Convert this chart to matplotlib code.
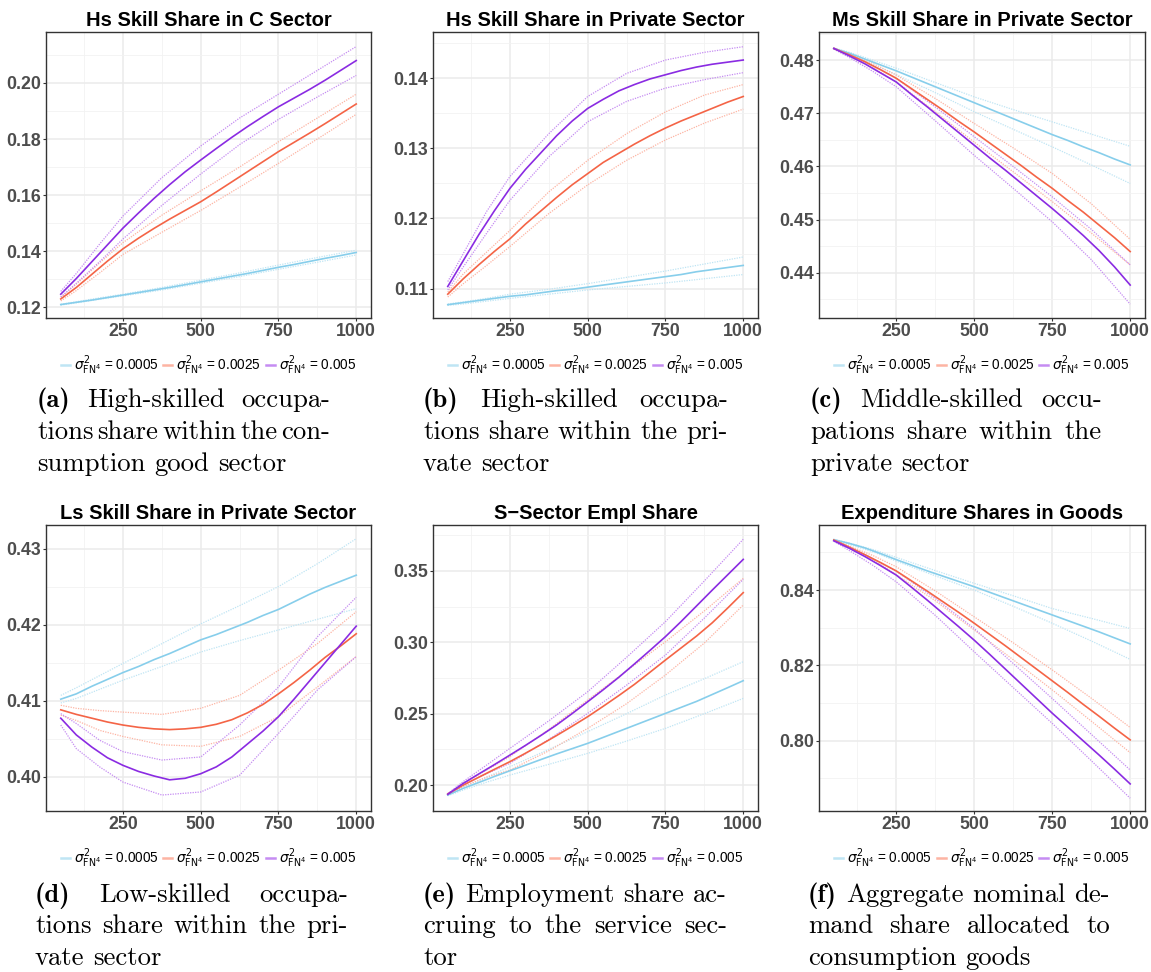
import matplotlib
matplotlib.use("Agg")
import matplotlib.pyplot as plt
from matplotlib.lines import Line2D

W, H = 1151, 972
DPI = 100

# ---------------- data ----------------
# x positions of the band (dotted) series and of the mean (solid) series
steps = [50, 100, 175, 250, 375, 500, 625, 750, 875, 1000]
steps_mean = [50, 100, 150, 200, 250, 300, 350, 400, 450, 500,
              550, 600, 650, 700, 750, 800, 850, 900, 950, 1000]
variances = ["0.0005", "0.0025", "0.005"]

# each list: [sigma2=0.0005, sigma2=0.0025, sigma2=0.005]
hs_c_mean = [
    [0.1209, 0.1217, 0.1225, 0.1234, 0.1243, 0.1252, 0.1261, 0.1270, 0.1280, 0.1290,
     0.1300, 0.1310, 0.1320, 0.1331, 0.1342, 0.1352, 0.1363, 0.1374, 0.1384, 0.1395],
    [0.1229, 0.1270, 0.1317, 0.1364, 0.1408, 0.1446, 0.1481, 0.1514, 0.1545, 0.1576,
     0.1611, 0.1647, 0.1683, 0.1719, 0.1755, 0.1788, 0.1821, 0.1855, 0.1890, 0.1925],
    [0.1246, 0.1302, 0.1362, 0.1422, 0.1482, 0.1536, 0.1588, 0.1637, 0.1683, 0.1725,
     0.1766, 0.1806, 0.1844, 0.1880, 0.1915, 0.1946, 0.1977, 0.2010, 0.2045, 0.2080],
]
hs_c_hi = [
    [0.1210, 0.1219, 0.1233, 0.1246, 0.1270, 0.1296, 0.1322, 0.1350, 0.1377, 0.1403],
    [0.1235, 0.1282, 0.1358, 0.1430, 0.1528, 0.1615, 0.1700, 0.1790, 0.1875, 0.1960],
    [0.1256, 0.1320, 0.1425, 0.1525, 0.1662, 0.1775, 0.1875, 0.1960, 0.2045, 0.2130],
]
hs_c_lo = [
    [0.1207, 0.1215, 0.1228, 0.1240, 0.1261, 0.1285, 0.1309, 0.1335, 0.1360, 0.1386],
    [0.1222, 0.1259, 0.1322, 0.1388, 0.1467, 0.1545, 0.1628, 0.1713, 0.1800, 0.1888],
    [0.1236, 0.1285, 0.1362, 0.1443, 0.1563, 0.1675, 0.1780, 0.1870, 0.1950, 0.2027],
]

hs_p_mean = [
    [0.1077, 0.1080, 0.1083, 0.1086, 0.1089, 0.1091, 0.1094, 0.1097, 0.1099, 0.1102,
     0.1105, 0.1108, 0.1111, 0.1114, 0.1117, 0.1120, 0.1124, 0.1127, 0.1130, 0.1133],
    [0.1092, 0.1114, 0.1134, 0.1153, 0.1171, 0.1192, 0.1211, 0.1230, 0.1248, 0.1264,
     0.1280, 0.1293, 0.1306, 0.1318, 0.1329, 0.1339, 0.1348, 0.1357, 0.1366, 0.1374],
    [0.1103, 0.1140, 0.1177, 0.1211, 0.1243, 0.1270, 0.1294, 0.1318, 0.1339, 0.1357,
     0.1370, 0.1382, 0.1391, 0.1399, 0.1405, 0.1411, 0.1416, 0.1420, 0.1423, 0.1426],
]
hs_p_hi = [
    [0.1078, 0.1081, 0.1086, 0.1092, 0.1099, 0.1107, 0.1116, 0.1125, 0.1135, 0.1145],
    [0.1095, 0.1121, 0.1152, 0.1183, 0.1238, 0.1283, 0.1321, 0.1352, 0.1376, 0.1391],
    [0.1110, 0.1150, 0.1210, 0.1260, 0.1321, 0.1374, 0.1407, 0.1426, 0.1437, 0.1445],
]
hs_p_lo = [
    [0.1076, 0.1078, 0.1082, 0.1086, 0.1092, 0.1098, 0.1103, 0.1108, 0.1114, 0.1120],
    [0.1088, 0.1107, 0.1133, 0.1160, 0.1207, 0.1248, 0.1283, 0.1312, 0.1336, 0.1356],
    [0.1098, 0.1131, 0.1179, 0.1226, 0.1288, 0.1338, 0.1367, 0.1386, 0.1398, 0.1408],
]

ms_p_mean = [
    [0.4822, 0.4813, 0.4802, 0.4791, 0.4780, 0.4768, 0.4756, 0.4744, 0.4732, 0.4720,
     0.4708, 0.4696, 0.4684, 0.4672, 0.4660, 0.4649, 0.4637, 0.4626, 0.4614, 0.4603],
    [0.4822, 0.4810, 0.4797, 0.4782, 0.4766, 0.4746, 0.4726, 0.4706, 0.4685, 0.4665,
     0.4644, 0.4623, 0.4602, 0.4580, 0.4559, 0.4536, 0.4514, 0.4490, 0.4466, 0.4440],
    [0.4822, 0.4808, 0.4793, 0.4776, 0.4759, 0.4735, 0.4712, 0.4688, 0.4664, 0.4640,
     0.4616, 0.4593, 0.4569, 0.4545, 0.4521, 0.4496, 0.4470, 0.4442, 0.4411, 0.4377],
]
ms_p_hi = [
    [0.4823, 0.4815, 0.4800, 0.4785, 0.4758, 0.4731, 0.4707, 0.4684, 0.4661, 0.4638],
    [0.4823, 0.4812, 0.4794, 0.4772, 0.4728, 0.4681, 0.4635, 0.4587, 0.4530, 0.4463],
    [0.4823, 0.4810, 0.4790, 0.4766, 0.4712, 0.4656, 0.4600, 0.4543, 0.4482, 0.4415],
]
ms_p_lo = [
    [0.4821, 0.4810, 0.4792, 0.4773, 0.4739, 0.4703, 0.4670, 0.4637, 0.4603, 0.4568],
    [0.4821, 0.4808, 0.4786, 0.4759, 0.4703, 0.4646, 0.4590, 0.4534, 0.4475, 0.4415],
    [0.4821, 0.4805, 0.4779, 0.4750, 0.4686, 0.4621, 0.4559, 0.4496, 0.4425, 0.4341],
]

ls_p_mean = [
    [0.4102, 0.4109, 0.4119, 0.4128, 0.4137, 0.4145, 0.4154, 0.4162, 0.4171, 0.4180,
     0.4187, 0.4195, 0.4203, 0.4212, 0.4220, 0.4230, 0.4240, 0.4249, 0.4257, 0.4265],
    [0.4088, 0.4082, 0.4077, 0.4072, 0.4068, 0.4065, 0.4063, 0.4062, 0.4063, 0.4065,
     0.4069, 0.4075, 0.4084, 0.4095, 0.4109, 0.4124, 0.4140, 0.4157, 0.4172, 0.4188],
    [0.4077, 0.4055, 0.4039, 0.4025, 0.4015, 0.4007, 0.4001, 0.3996, 0.3998, 0.4004,
     0.4013, 0.4026, 0.4043, 0.4060, 0.4079, 0.4102, 0.4126, 0.4150, 0.4174, 0.4198],
]
ls_p_hi = [
    [0.4107, 0.4117, 0.4133, 0.4149, 0.4175, 0.4201, 0.4225, 0.4250, 0.4280, 0.4313],
    [0.4094, 0.4090, 0.4087, 0.4085, 0.4082, 0.4090, 0.4107, 0.4140, 0.4175, 0.4217],
    [0.4083, 0.4070, 0.4048, 0.4033, 0.4022, 0.4026, 0.4068, 0.4118, 0.4184, 0.4236],
]
ls_p_lo = [
    [0.4097, 0.4103, 0.4115, 0.4127, 0.4145, 0.4164, 0.4179, 0.4193, 0.4207, 0.4221],
    [0.4081, 0.4074, 0.4061, 0.4053, 0.4042, 0.4040, 0.4053, 0.4079, 0.4118, 0.4158],
    [0.4068, 0.4037, 0.4013, 0.3993, 0.3976, 0.3980, 0.4002, 0.4057, 0.4114, 0.4158],
]

s_empl_mean = [
    [0.1930, 0.1977, 0.2018, 0.2060, 0.2100, 0.2139, 0.2179, 0.2218, 0.2255, 0.2292,
     0.2334, 0.2376, 0.2418, 0.2460, 0.2502, 0.2544, 0.2586, 0.2634, 0.2682, 0.2731],
    [0.1937, 0.2000, 0.2055, 0.2110, 0.2164, 0.2223, 0.2284, 0.2347, 0.2412, 0.2479,
     0.2552, 0.2627, 0.2705, 0.2790, 0.2876, 0.2960, 0.3044, 0.3136, 0.3240, 0.3348],
    [0.1935, 0.2012, 0.2078, 0.2143, 0.2210, 0.2278, 0.2348, 0.2421, 0.2501, 0.2584,
     0.2668, 0.2755, 0.2848, 0.2943, 0.3040, 0.3145, 0.3255, 0.3365, 0.3473, 0.3581],
]
s_empl_hi = [
    [0.1932, 0.1985, 0.2055, 0.2128, 0.2250, 0.2374, 0.2500, 0.2631, 0.2745, 0.2864],
    [0.1940, 0.2010, 0.2105, 0.2199, 0.2390, 0.2596, 0.2800, 0.3004, 0.3220, 0.3448],
    [0.1940, 0.2025, 0.2140, 0.2257, 0.2450, 0.2654, 0.2895, 0.3145, 0.3430, 0.3722],
]
s_empl_lo = [
    [0.1925, 0.1965, 0.2020, 0.2070, 0.2145, 0.2222, 0.2308, 0.2397, 0.2500, 0.2607],
    [0.1932, 0.1990, 0.2055, 0.2105, 0.2240, 0.2397, 0.2570, 0.2771, 0.2995, 0.3261],
    [0.1930, 0.2000, 0.2080, 0.2152, 0.2320, 0.2502, 0.2700, 0.2911, 0.3170, 0.3441],
]

exp_g_mean = [
    [0.8534, 0.8524, 0.8512, 0.8497, 0.8481, 0.8466, 0.8451, 0.8437, 0.8423, 0.8409,
     0.8394, 0.8379, 0.8364, 0.8349, 0.8334, 0.8319, 0.8304, 0.8289, 0.8273, 0.8257],
    [0.8533, 0.8514, 0.8494, 0.8473, 0.8451, 0.8424, 0.8397, 0.8369, 0.8341, 0.8312,
     0.8282, 0.8252, 0.8221, 0.8190, 0.8159, 0.8128, 0.8096, 0.8065, 0.8033, 0.8002],
    [0.8531, 0.8511, 0.8489, 0.8465, 0.8440, 0.8407, 0.8373, 0.8338, 0.8303, 0.8267,
     0.8229, 0.8190, 0.8151, 0.8112, 0.8073, 0.8036, 0.7999, 0.7962, 0.7924, 0.7885],
]
exp_g_hi = [
    [0.8535, 0.8525, 0.8508, 0.8487, 0.8452, 0.8418, 0.8385, 0.8351, 0.8325, 0.8298],
    [0.8534, 0.8517, 0.8492, 0.8462, 0.8398, 0.8329, 0.8260, 0.8188, 0.8113, 0.8035],
    [0.8532, 0.8514, 0.8484, 0.8450, 0.8378, 0.8298, 0.8205, 0.8112, 0.8017, 0.7922],
]
exp_g_lo = [
    [0.8533, 0.8521, 0.8502, 0.8477, 0.8438, 0.8400, 0.8357, 0.8312, 0.8265, 0.8216],
    [0.8532, 0.8512, 0.8481, 0.8441, 0.8372, 0.8294, 0.8215, 0.8135, 0.8052, 0.7968],
    [0.8530, 0.8505, 0.8466, 0.8422, 0.8333, 0.8236, 0.8141, 0.8046, 0.7947, 0.7847],
]

titles = ["Hs Skill Share in C Sector", "Hs Skill Share in Private Sector",
          "Ms Skill Share in Private Sector", "Ls Skill Share in Private Sector",
          "S\u2212Sector Empl Share", "Expenditure Shares in Goods"]

y_major = [[0.12, 0.14, 0.16, 0.18, 0.20],
           [0.11, 0.12, 0.13, 0.14],
           [0.44, 0.45, 0.46, 0.47, 0.48],
           [0.40, 0.41, 0.42, 0.43],
           [0.20, 0.25, 0.30, 0.35],
           [0.80, 0.82, 0.84]]
x_major = [250, 500, 750, 1000]

captions = [
    ("(a)", [["High-skilled", "occupa-"], ["tions", "share", "within", "the", "con-"], ["sumption", "good", "sector"]]),
    ("(b)", [["High-skilled", "occupa-"], ["tions", "share", "within", "the", "pri-"], ["vate", "sector"]]),
    ("(c)", [["Middle-skilled", "occu-"], ["pations", "share", "within", "the"], ["private", "sector"]]),
    ("(d)", [["Low-skilled", "occupa-"], ["tions", "share", "within", "the", "pri-"], ["vate", "sector"]]),
    ("(e)", [["Employment", "share", "ac-"], ["cruing", "to", "the", "service", "sec-"], ["tor"]]),
    ("(f)", [["Aggregate", "nominal", "de-"], ["mand", "share", "allocated", "to"], ["consumption", "goods"]]),
]

# ---------------- style ----------------
main_cols = ["#87CEEB", "#F46446", "#8A2BE2"]
light_cols = ["#BFE5F4", "#FDB4A3", "#C58CF2"]

panels_mean = [hs_c_mean, hs_p_mean, ms_p_mean, ls_p_mean, s_empl_mean, exp_g_mean]
panels_hi = [hs_c_hi, hs_p_hi, ms_p_hi, ls_p_hi, s_empl_hi, exp_g_hi]
panels_lo = [hs_c_lo, hs_p_lo, ms_p_lo, ls_p_lo, s_empl_lo, exp_g_lo]

boxes = [(46, 32, 371, 318), (433, 32, 758, 318), (819, 32, 1145, 318),
         (46, 525, 371, 811), (433, 525, 758, 811), (819, 525, 1145, 811)]
ylims = [(0.1161, 0.2182), (0.1058, 0.1466), (0.4315, 0.4853),
         (0.3955, 0.4331), (0.1818, 0.3822), (0.7813, 0.8573)]

plt.rcParams["font.family"] = ["Liberation Sans", "DejaVu Sans"]
plt.rcParams["mathtext.fontset"] = "dejavusans"

fig = plt.figure(figsize=(W / DPI, H / DPI), dpi=DPI)
fig.patch.set_facecolor("white")


def rect(l, t, r, b):
    return [l / W, 1 - b / H, (r - l) / W, (b - t) / H]


for k in range(6):
    ax = fig.add_axes(rect(*boxes[k]))
    ax.set_facecolor("white")
    yt = y_major[k]
    step = yt[1] - yt[0]
    minor = [v - step / 2 for v in yt] + [yt[-1] + step / 2]
    ax.set_xticks(x_major)
    ax.set_xticklabels([str(v) for v in x_major])
    ax.set_xticks([v - 125 for v in x_major], minor=True)
    ax.set_yticks(yt)
    ax.set_yticklabels([f"{v:.2f}" for v in yt])
    ax.set_yticks(minor, minor=True)
    ax.grid(which="major", color="#EBEBEB", lw=1.1)
    ax.grid(which="minor", color="#F2F2F2", lw=0.6)
    ax.set_axisbelow(True)
    ax.tick_params(which="major", length=2.2, width=0.8, color="#333333", pad=1.5,
                   labelsize=12.8, labelcolor="#4D4D4D")
    ax.tick_params(which="minor", length=0)
    for lab in ax.get_xticklabels() + ax.get_yticklabels():
        lab.set_fontweight("bold")
    for s in ax.spines.values():
        s.set_color("#333333")
        s.set_linewidth(1.0)

    for i in range(3):
        ax.plot(steps, panels_hi[k][i], color=light_cols[i], lw=0.9, ls=(0, (1, 1)))
        ax.plot(steps, panels_lo[k][i], color=light_cols[i], lw=0.9, ls=(0, (1, 1)))
    for i in range(3):
        ax.plot(steps_mean, panels_mean[k][i], color=main_cols[i], lw=1.2)

    ax.set_xlim(2.5, 1047.5)
    ax.set_ylim(*ylims[k])
    ax.set_title(titles[k], fontsize=14.5, fontweight="bold", color="black", pad=4)

    handles = [Line2D([], [], color=light_cols[i], lw=1.8) for i in range(3)]
    labels = [r"$\sigma^{2}_{\mathrm{FN}^{4}}$ = " + v for v in variances]
    ax.legend(handles, labels, loc="center", bbox_to_anchor=(0.5, -0.165), ncol=3,
              frameon=False, fontsize=9.8, handlelength=0.65, handletextpad=0.3,
              columnspacing=0.35, borderaxespad=0)

# ---------------- captions ----------------
renderer = fig.canvas.get_renderer()
cap_fs = 19.2
cap_cols = [(37, 330), (423, 728), (810, 1102), (35, 348), (423, 727), (808, 1110)]
cap_base = [[407, 439, 471], [407, 439, 471], [407, 439, 471],
            [902, 933, 965], [902, 933, 965], [902, 933, 965]]

for k in range(6):
    label, lines = captions[k]
    left, right = cap_cols[k]
    for li, words in enumerate(lines):
        items = list(words)
        fams = ["cmr10"] * len(items)
        if li == 0:
            items = [label] + items
            fams = ["cmb10"] + fams
        y = 1 - cap_base[k][li] / H
        texts = [fig.text(0, y, w, fontsize=cap_fs, family=[f, "DejaVu Serif"],
                          va="baseline", ha="left", color="black")
                 for w, f in zip(items, fams)]
        widths = [t.get_window_extent(renderer).width for t in texts]
        last = li == len(lines) - 1
        if not last and len(items) > 1:
            gap = (right - left - sum(widths)) / (len(items) - 1)
        else:
            gap = 0.333 * cap_fs * DPI / 72
        x = left
        for t, wd in zip(texts, widths):
            t.set_x(x / W)
            x += wd + gap

fig.savefig("out.png", dpi=DPI, facecolor="white")
